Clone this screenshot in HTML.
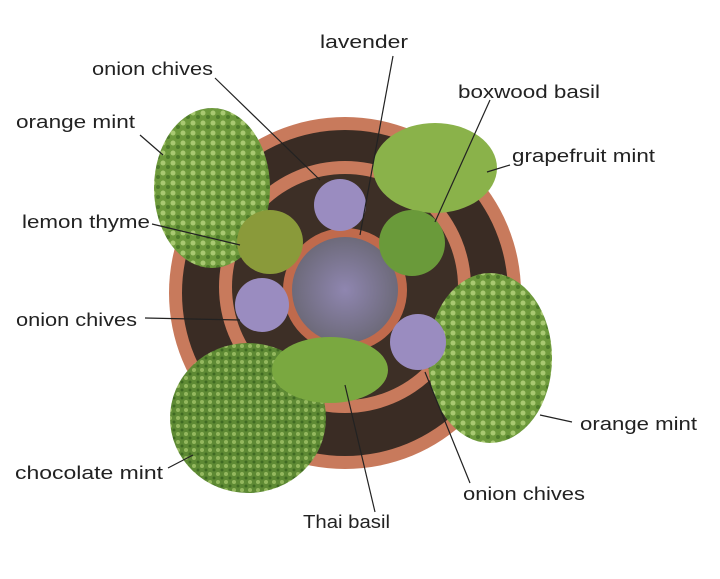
<!DOCTYPE html>
<html><head><meta charset="utf-8"><style>
html,body{margin:0;padding:0;background:#fff}
svg{display:block}
text{font-family:"Liberation Sans",sans-serif;font-size:18px;fill:#222}
</style></head><body>
<svg width="720" height="579" viewBox="0 0 720 579">
<defs>
<radialGradient id="lav" cx="50%" cy="50%" r="50%">
<stop offset="0" stop-color="#8f86b0"/><stop offset="1" stop-color="#6d6a7a"/></radialGradient>
<pattern id="green" width="10" height="10" patternUnits="userSpaceOnUse">
<rect width="10" height="10" fill="#6e9a3c"/><circle cx="3" cy="3" r="2.5" fill="#a9c972"/><circle cx="8" cy="7" r="2" fill="#4d7a2a"/></pattern>
<pattern id="dgreen" width="8" height="8" patternUnits="userSpaceOnUse">
<rect width="8" height="8" fill="#5e8a34"/><circle cx="2" cy="2" r="2" fill="#94b85e"/><circle cx="6" cy="6" r="1.5" fill="#3f6a22"/></pattern>
</defs>
<circle cx="345" cy="293" r="176" fill="#c87a5c"/>
<circle cx="345" cy="293" r="163" fill="#3a2c24"/>
<circle cx="345" cy="287" r="126" fill="#c87a5c"/>
<circle cx="345" cy="287" r="113" fill="#3d2f26"/>
<circle cx="345" cy="290" r="62" fill="#c06a4c"/>
<circle cx="345" cy="290" r="53" fill="url(#lav)"/>
<ellipse cx="212" cy="188" rx="58" ry="80" fill="url(#green)"/>
<ellipse cx="435" cy="168" rx="62" ry="45" fill="#8ab24a"/>
<ellipse cx="490" cy="358" rx="62" ry="85" fill="url(#green)"/>
<ellipse cx="248" cy="418" rx="78" ry="75" fill="url(#dgreen)"/>
<circle cx="340" cy="205" r="26" fill="#9a8cc0"/>
<circle cx="262" cy="305" r="27" fill="#9a8cc0"/>
<circle cx="418" cy="342" r="28" fill="#9a8cc0"/>
<ellipse cx="270" cy="242" rx="33" ry="32" fill="#8a9a3a"/>
<circle cx="412" cy="243" r="33" fill="#6a9a3a"/>
<ellipse cx="330" cy="370" rx="58" ry="33" fill="#7aa840"/>
<g stroke="#222" stroke-width="1.2" fill="none">
<line x1="393" y1="56" x2="360" y2="235"/>
<line x1="215" y1="78" x2="320" y2="180"/>
<line x1="490" y1="100" x2="435" y2="222"/>
<line x1="140" y1="135" x2="163" y2="155"/>
<line x1="510" y1="165" x2="487" y2="172"/>
<line x1="152" y1="224" x2="240" y2="245"/>
<line x1="145" y1="318" x2="240" y2="320"/>
<line x1="572" y1="422" x2="540" y2="415"/>
<line x1="168" y1="468" x2="193" y2="455"/>
<line x1="470" y1="483" x2="425" y2="372"/>
<line x1="375" y1="512" x2="345" y2="385"/>
</g>
<text x="320" y="48" textLength="88" lengthAdjust="spacingAndGlyphs">lavender</text>
<text x="92" y="75" textLength="121" lengthAdjust="spacingAndGlyphs">onion chives</text>
<text x="458" y="98" textLength="142" lengthAdjust="spacingAndGlyphs">boxwood basil</text>
<text x="16" y="128" textLength="119" lengthAdjust="spacingAndGlyphs">orange mint</text>
<text x="512" y="162" textLength="143" lengthAdjust="spacingAndGlyphs">grapefruit mint</text>
<text x="22" y="228" textLength="128" lengthAdjust="spacingAndGlyphs">lemon thyme</text>
<text x="16" y="326" textLength="121" lengthAdjust="spacingAndGlyphs">onion chives</text>
<text x="580" y="430" textLength="117" lengthAdjust="spacingAndGlyphs">orange mint</text>
<text x="15" y="479" textLength="148" lengthAdjust="spacingAndGlyphs">chocolate mint</text>
<text x="463" y="500" textLength="122" lengthAdjust="spacingAndGlyphs">onion chives</text>
<text x="303" y="528" textLength="87" lengthAdjust="spacingAndGlyphs">Thai basil</text>
</svg>
</body></html>
